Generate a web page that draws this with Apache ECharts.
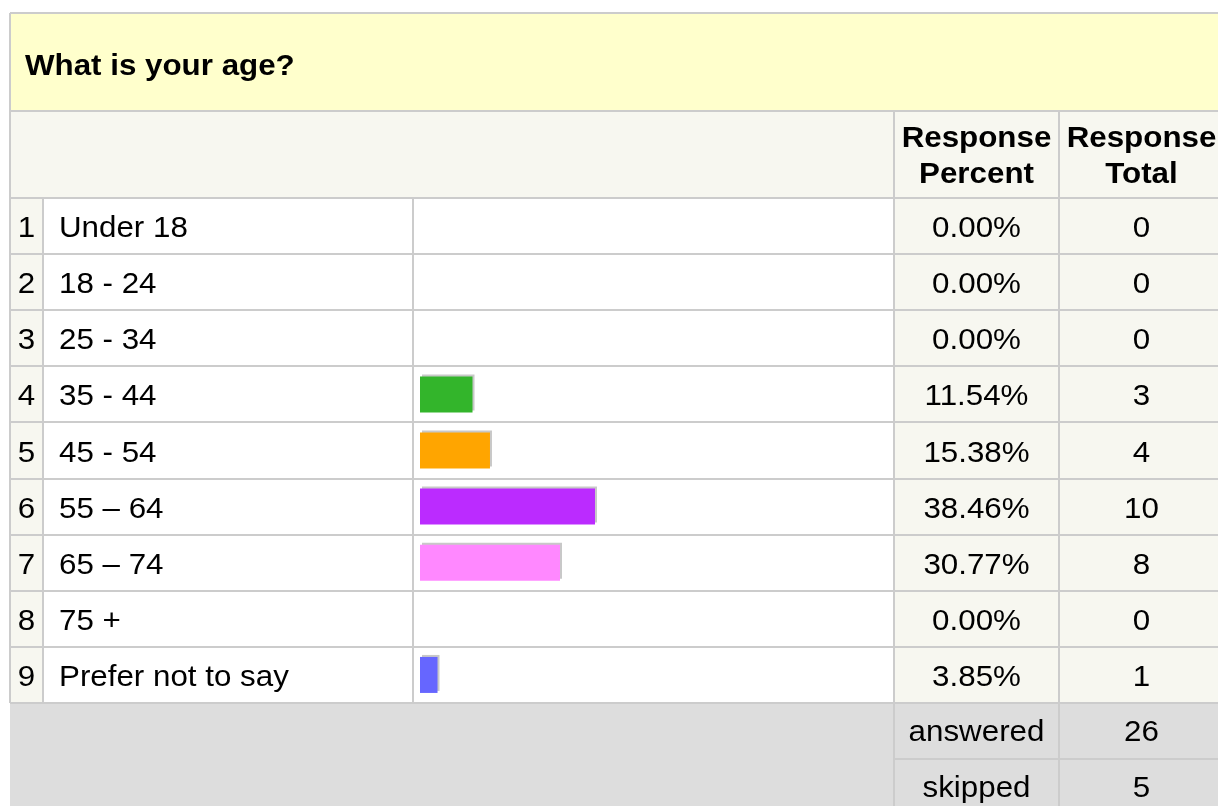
<!DOCTYPE html>
<html>
<head>
<meta charset="utf-8">
<title>What is your age?</title>
<script src="https://cdn.jsdelivr.net/npm/echarts@6/dist/echarts.min.js"></script>
<style>
  html, body { margin: 0; padding: 0; background: #fff; }
  #chart { width: 1218px; height: 806px; }
</style>
</head>
<body>
<div id="chart"></div>
<script>
// survey data
var title = 'What is your age?'
var categories = ['Under 18', '18 - 24', '25 - 34', '35 - 44', '45 - 54', '55 – 64', '65 – 74', '75 +', 'Prefer not to say']
var percents = [0, 0, 0, 11.54, 15.38, 38.46, 30.77, 0, 3.85]
var totals = [0, 0, 0, 3, 4, 10, 8, 0, 1]
var barColors = ['#33b52b', '#33b52b', '#33b52b', '#33b52b', '#ffa500', '#bb2bff', '#ff88ff', '#ff88ff', '#6666ff']
var footLabels = ['answered', 'skipped']
var footValues = [26, 5]

// table layout
var cols = [10, 43, 413, 894, 1059, 1224]
var top0 = 13, titleBottom = 111, headBottom = 198, rowsBottom = 703, footH = 56
var rowH = (rowsBottom - headBottom) / categories.length
var lineColor = '#cccccc'
var cream = '#f7f7f0'
var font = '"Liberation Sans", Arial, sans-serif'
var fs = 29, sx = 1.08

function txt(x, y, s, opts) {
  opts = opts || {}
  return {
    type: 'text', x: x, y: y + 2, scaleX: sx, silent: true,
    style: {
      text: s, fill: '#000', font: (opts.bold ? 'bold ' : '') + fs + 'px ' + font,
      align: opts.align || 'left', verticalAlign: 'middle', lineHeight: opts.lineHeight || fs
    }
  }
}
function rect(x, y, w, h, fill) {
  return { type: 'rect', silent: true, shape: { x: x, y: y, width: w, height: h }, style: { fill: fill } }
}
function line(x1, y1, x2, y2) {
  return { type: 'line', silent: true, shape: { x1: x1, y1: y1, x2: x2, y2: y2 }, style: { stroke: lineColor, lineWidth: 2 } }
}

var els = []
// backgrounds
els.push(rect(cols[0], top0, 1300, titleBottom - top0, '#ffffcc'))
els.push(rect(cols[0], titleBottom, 1300, headBottom - titleBottom, cream))
els.push(rect(cols[0], headBottom, cols[1] - cols[0], rowsBottom - headBottom, cream))
els.push(rect(cols[1], headBottom, cols[3] - cols[1], rowsBottom - headBottom, '#ffffff'))
els.push(rect(cols[3], headBottom, 400, rowsBottom - headBottom, cream))
els.push(rect(cols[0], rowsBottom, 1300, 200, '#dddddd'))

// horizontal lines
els.push(line(cols[0], top0, 1300, top0))
els.push(line(cols[0], titleBottom, 1300, titleBottom))
els.push(line(cols[0], headBottom, 1300, headBottom))
for (var i = 1; i <= categories.length; i++) {
  var y = Math.round(headBottom + i * rowH)
  els.push(line(cols[0], y, 1300, y))
}
els.push(line(cols[3], rowsBottom + footH, 1300, rowsBottom + footH))
// vertical lines
els.push(line(cols[0], top0, cols[0], rowsBottom))
els.push(line(cols[1], headBottom, cols[1], rowsBottom))
els.push(line(cols[2], headBottom, cols[2], rowsBottom))
els.push(line(cols[3], titleBottom, cols[3], 806))
els.push(line(cols[4], titleBottom, cols[4], 806))

// texts
els.push(txt(25, 65, title, { bold: true }))
var pc = (cols[3] + cols[4]) / 2, tc = (cols[4] + cols[5]) / 2
els.push(txt(pc, 155, 'Response\nPercent', { bold: true, align: 'center', lineHeight: 36 }))
els.push(txt(tc, 155, 'Response\nTotal', { bold: true, align: 'center', lineHeight: 36 }))
categories.forEach(function (c, i) {
  var cy = headBottom + (i + 0.5) * rowH + 1
  els.push(txt((cols[0] + cols[1]) / 2, cy, String(i + 1), { align: 'center' }))
  els.push(txt(59, cy, c))
  els.push(txt(pc, cy, percents[i].toFixed(2) + '%', { align: 'center' }))
  els.push(txt(tc, cy, String(totals[i]), { align: 'center' }))
})
footLabels.forEach(function (l, i) {
  var cy = rowsBottom + (i + 0.5) * footH
  els.push(txt(pc, cy, l, { align: 'center' }))
  els.push(txt(tc, cy, String(footValues[i]), { align: 'center' }))
})

var chart = echarts.init(document.getElementById('chart'))
var option = {
  animation: false,
  graphic: { elements: els },
  grid: { left: 420, top: headBottom, width: 455, height: rowsBottom - headBottom },
  xAxis: { type: 'value', min: 0, max: 100, show: false },
  yAxis: { type: 'category', inverse: true, data: categories, show: false },
  series: [{
    type: 'bar',
    barWidth: 36,
    silent: true,
    data: percents.map(function (v, i) {
      return {
        value: v,
        itemStyle: {
          color: barColors[i],
          shadowColor: '#c8c8c8', shadowBlur: 0, shadowOffsetX: 2, shadowOffsetY: -2
        }
      }
    })
  }]
}
chart.setOption(option)
</script>
</body>
</html>
